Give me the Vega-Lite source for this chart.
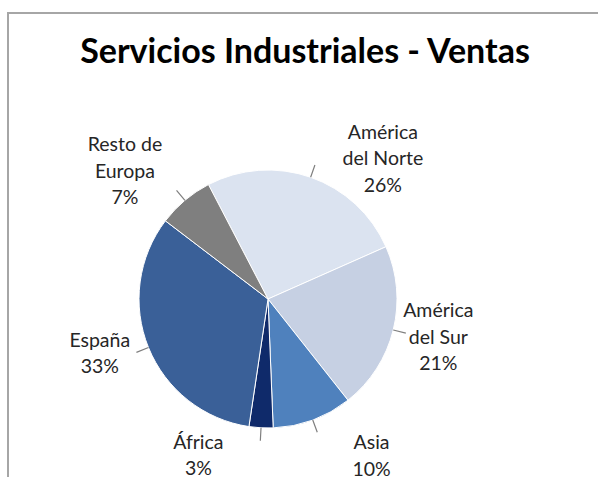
{
  "$schema": "https://vega.github.io/schema/vega-lite/v6.json",
  "width": 594,
  "height": 468,
  "autosize": {"type": "none"},
  "padding": {"left": 8, "top": 13, "right": -4, "bottom": -4},
  "background": "white",
  "view": {"stroke": "#a6a6a6", "strokeWidth": 2, "fill": "white"},
  "config": {
    "view": {"stroke": "#a6a6a6", "strokeWidth": 2},
    "font": "Lato"
  },
  "title": {
    "text": "Servicios Industriales - Ventas",
    "font": "Lato",
    "fontSize": 34,
    "fontWeight": "bold",
    "color": "#000000",
    "anchor": "middle",
    "orient": "top",
    "frame": "group",
    "baseline": "alphabetic",
    "offset": 0,
    "dy": 84
  },
  "data": {
    "values": [
      {"order": 1, "name": "América\ndel Norte", "value": 26},
      {"order": 2, "name": "América\ndel Sur", "value": 21},
      {"order": 3, "name": "Asia", "value": 10},
      {"order": 4, "name": "África", "value": 3},
      {"order": 5, "name": "España", "value": 33},
      {"order": 6, "name": "Resto de\nEuropa", "value": 7}
    ]
  },
  "transform": [
    {"window": [{"op": "sum", "field": "value", "as": "cum"}], "sort": [{"field": "order"}], "frame": [null, 0]},
    {"calculate": "datum.cum - datum.value", "as": "start"},
    {"calculate": "datum.cum - datum.value / 2", "as": "mid"},
    {"calculate": "datum.name + '\\n' + datum.value + '%'", "as": "label"}
  ],
  "layer": [
    {
      "mark": {"type": "arc", "x": 260, "y": 286, "outerRadius": 129, "stroke": "white", "strokeWidth": 1},
      "encoding": {
        "theta": {"field": "start", "type": "quantitative", "scale": {"domain": [0, 100], "range": [-0.48, 5.8032]}},
        "theta2": {"field": "cum"},
        "color": {
          "field": "name", "type": "nominal", "legend": null,
          "scale": {
            "domain": ["América\ndel Norte", "América\ndel Sur", "Asia", "África", "España", "Resto de\nEuropa"],
            "range": ["#dbe3f0", "#c6d0e3", "#4f81bd", "#0f2a6a", "#3a6098", "#7f7f7f"]
          }
        }
      }
    },
    {
      "mark": {"type": "arc", "x": 260, "y": 286, "radius": 129, "radius2": 142, "fill": null, "stroke": "#7f7f7f", "strokeWidth": 1.2},
      "encoding": {
        "theta": {"field": "mid", "type": "quantitative"},
        "theta2": {"field": "mid"}
      }
    },
    {
      "transform": [{"filter": "datum.order == 1"}],
      "mark": {"type": "text", "x": 260, "y": 286, "radius": 160, "dx": 62, "dy": -15, "fontSize": 19.5, "lineHeight": 26.5, "lineBreak": "\n", "align": "center", "baseline": "middle", "color": "#262626"},
      "encoding": {"theta": {"field": "mid", "type": "quantitative"}, "text": {"field": "label"}}
    },
    {
      "transform": [{"filter": "datum.order == 2"}],
      "mark": {"type": "text", "x": 260, "y": 286, "radius": 160, "dx": 15, "dy": -26, "fontSize": 19.5, "lineHeight": 26.5, "lineBreak": "\n", "align": "center", "baseline": "middle", "color": "#262626"},
      "encoding": {"theta": {"field": "mid", "type": "quantitative"}, "text": {"field": "label"}}
    },
    {
      "transform": [{"filter": "datum.order == 3"}],
      "mark": {"type": "text", "x": 260, "y": 286, "radius": 160, "dx": 48, "dy": -6, "fontSize": 19.5, "lineHeight": 26.5, "lineBreak": "\n", "align": "center", "baseline": "middle", "color": "#262626"},
      "encoding": {"theta": {"field": "mid", "type": "quantitative"}, "text": {"field": "label"}}
    },
    {
      "transform": [{"filter": "datum.order == 4"}],
      "mark": {"type": "text", "x": 260, "y": 286, "radius": 160, "dx": -61, "dy": -16, "fontSize": 19.5, "lineHeight": 26.5, "lineBreak": "\n", "align": "center", "baseline": "middle", "color": "#262626"},
      "encoding": {"theta": {"field": "mid", "type": "quantitative"}, "text": {"field": "label"}}
    },
    {
      "transform": [{"filter": "datum.order == 5"}],
      "mark": {"type": "text", "x": 260, "y": 286, "radius": 160, "dx": -20, "dy": -18.5, "fontSize": 19.5, "lineHeight": 26.5, "lineBreak": "\n", "align": "center", "baseline": "middle", "color": "#262626"},
      "encoding": {"theta": {"field": "mid", "type": "quantitative"}, "text": {"field": "label"}}
    },
    {
      "transform": [{"filter": "datum.order == 6"}],
      "mark": {"type": "text", "x": 260, "y": 286, "radius": 160, "dx": -40, "dy": -31.5, "fontSize": 19.5, "lineHeight": 26.5, "lineBreak": "\n", "align": "center", "baseline": "middle", "color": "#262626"},
      "encoding": {"theta": {"field": "mid", "type": "quantitative"}, "text": {"field": "label"}}
    }
  ]
}
